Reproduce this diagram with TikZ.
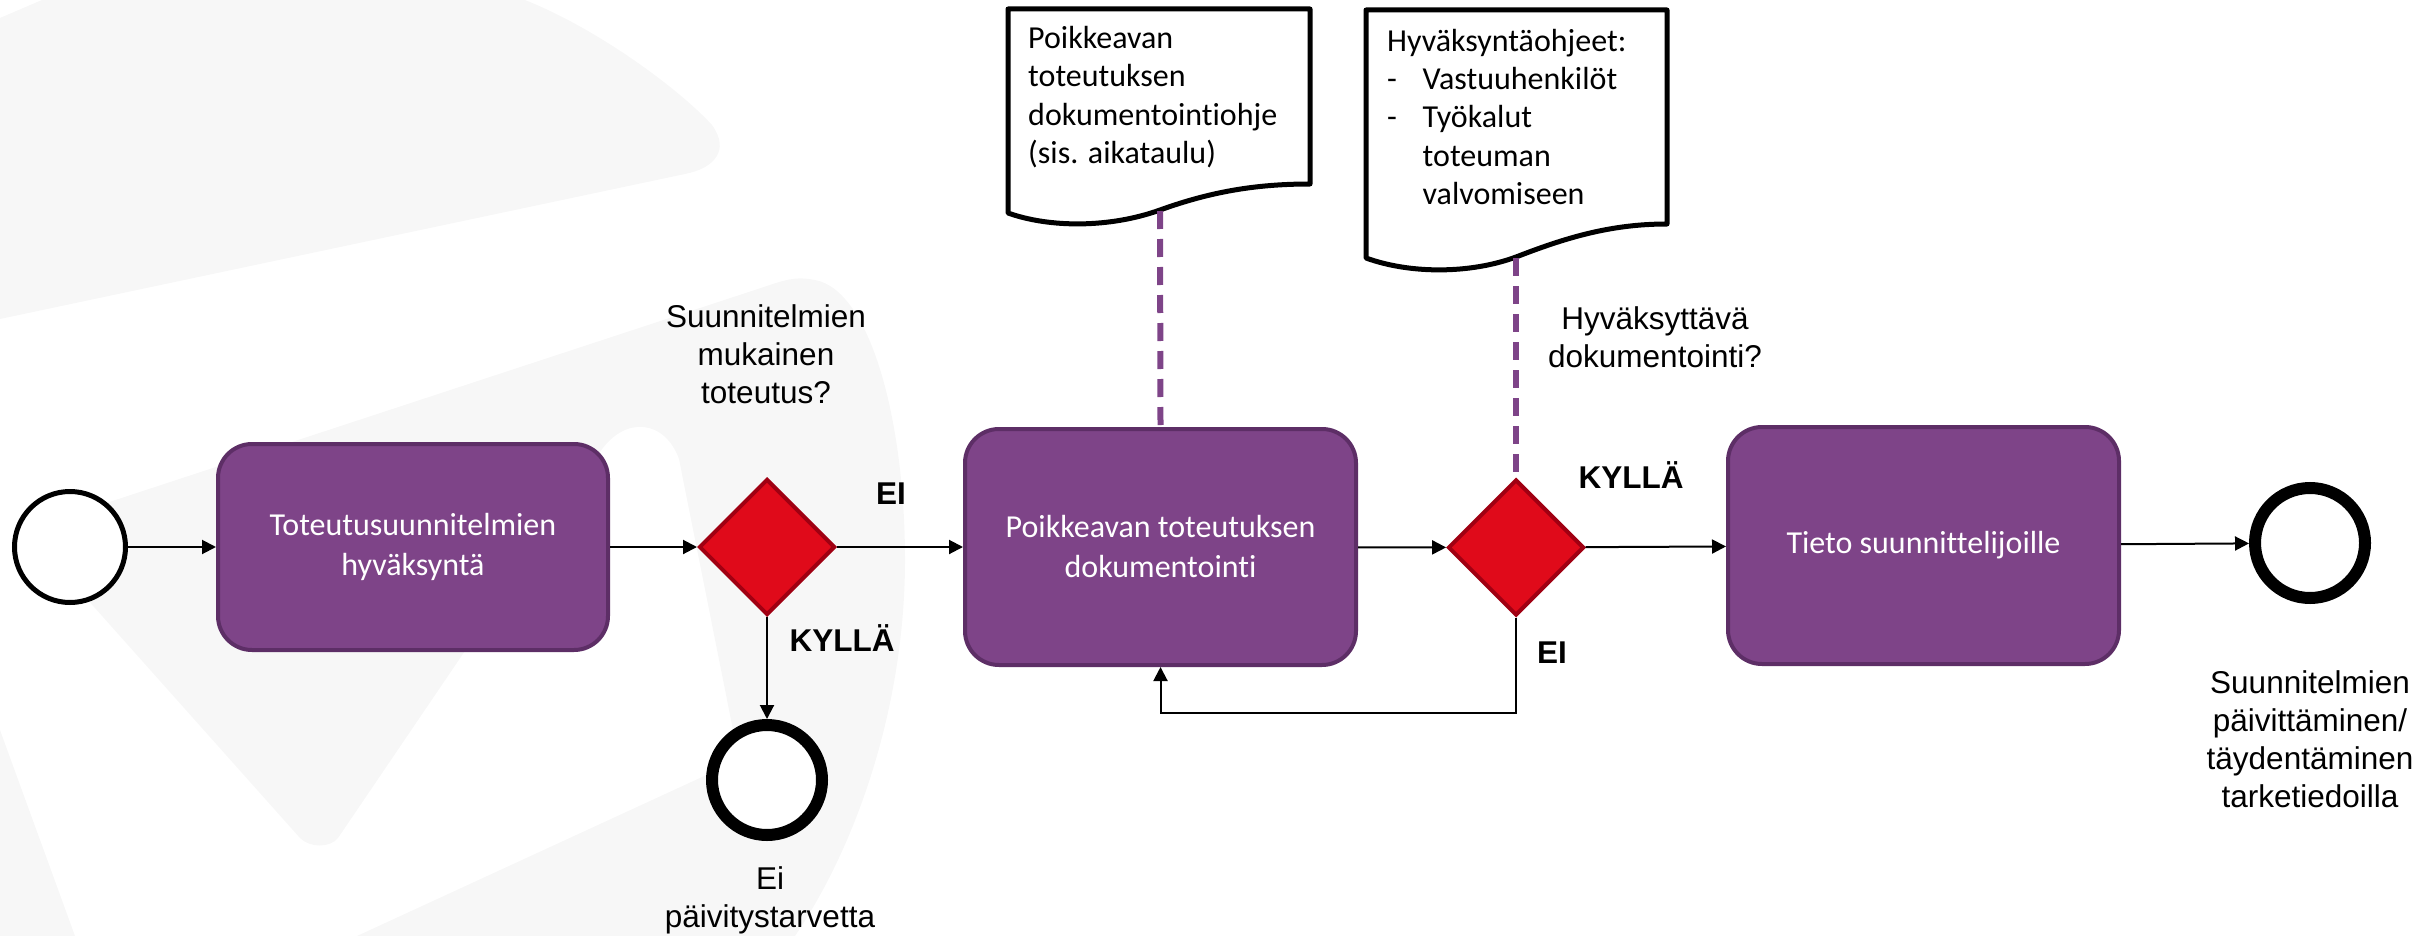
\documentclass[tikz,border=0pt]{standalone}
\usepackage{fontspec}
\setmainfont{Liberation Sans}
\newfontfamily\calibri[Ligatures={NoCommon}]{Carlito}
\usetikzlibrary{shapes.geometric,arrows.meta}
\definecolor{bgrey}{HTML}{F7F7F7}
\definecolor{taskfill}{RGB}{126,68,136}
\definecolor{taskdraw}{RGB}{93,46,102}
\definecolor{gwfill}{RGB}{224,10,26}
\definecolor{gwdraw}{RGB}{160,0,18}
\definecolor{assoc}{RGB}{126,68,136}
\begin{document}
\begin{tikzpicture}[x=1pt,y=-1pt,
 task/.style={rectangle, rounded corners=34pt, fill=taskfill, draw=taskdraw, line width=4pt, minimum width=390pt, minimum height=206pt, text=white, align=center, font=\calibri\fontsize{32}{40}\selectfont, inner sep=0pt},
 gateway/.style={diamond, aspect=1, fill=gwfill, draw=gwdraw, line width=4pt, minimum width=136pt, minimum height=136pt, inner sep=0pt},
 startev/.style={circle, draw=black, line width=5pt, fill=white, minimum size=111pt, inner sep=0pt},
 endev/.style={circle, draw=black, line width=12pt, fill=white, minimum size=110pt, inner sep=0pt},
 flow/.style={line width=2pt, -{Triangle[length=14pt,width=14pt]}},
 assocline/.style={draw=assoc, line width=6pt, dash pattern=on 18pt off 10pt},
 lbl/.style={align=center, font=\fontsize{31.5}{38}\selectfont, inner sep=0pt},
 blbl/.style={font=\bfseries\fontsize{31.5}{38}\selectfont, inner sep=0pt},
 doctext/.style={align=left, font=\calibri\fontsize{32}{38.4}\selectfont, inner sep=0pt, anchor=west},
 docshape/.style={draw=black, line width=5pt, fill=white, line join=round},
]
\useasboundingbox (0,0) rectangle (2435,936);
% background watermark
\fill[bgrey] (0,18) -- (42,0) -- (525,0) .. controls (600,30) and (680,90) .. (712,125)
  .. controls (730,150) and (715,168) .. (685,174) -- (0,319) -- cycle;
\fill[bgrey] (300,838) .. controls (310,848) and (330,848) .. (338,838)
  -- (600,452) .. controls (625,415) and (665,420) .. (679,459)
  -- (739,760) -- (357,936) -- (795,936)
  .. controls (860,840) and (905,700) .. (905,560)
  .. controls (905,420) and (870,290) .. (815,280)
  .. controls (800,277) and (790,278) .. (770,285)
  -- (85,510) .. controls (55,520) and (50,555) .. (70,580) -- cycle;
\fill[bgrey] (0,730) -- (75,936) -- (0,936) -- cycle;

% documents
\draw[docshape] (1008,9) -- (1310,9) -- (1310,184)
  .. controls (1255,184) and (1210,192) .. (1160,210)
  .. controls (1110,228) and (1050,228) .. (1008,213) -- cycle;
\coordinate (d1b) at (1160,211);
\node[doctext] (d1t) at (1028,97) {Poikkeavan\\toteutuksen\\dokumentointiohje\\(sis. aikataulu)};

\draw[docshape] (1366,10) -- (1667,10) -- (1667,224)
  .. controls (1610,224) and (1565,238) .. (1516,257)
  .. controls (1470,274) and (1410,274) .. (1366,258) -- cycle;
\coordinate (d2b) at (1516,258);
\node[doctext] (d2t) at (1387,117) {Hyväksyntäohjeet:\\\makebox[35.5pt][l]{-}Vastuuhenkilöt\\\makebox[35.5pt][l]{-}Työkalut\\\makebox[35.5pt][l]{}toteuman\\\makebox[35.5pt][l]{}valvomiseen};

% flow nodes
\node[startev] (start) at (70,547) {};
\node[task] (t1) at (413,547) {Toteutusuunnitelmien\\hyväksyntä};
\node[gateway] (g1) at (767,547) {};
\node[endev] (e1) at (767,780) {};
\node[task, minimum width=391pt, minimum height=236pt] (t2) at (1160.5,547) {Poikkeavan toteutuksen\\dokumentointi};
\node[gateway] (g2) at (1516,547.5) {};
\node[task, minimum width=391pt, minimum height=237pt] (t3) at (1923.5,545.5) {Tieto suunnittelijoille};
\node[endev] (e2) at (2310,543) {};
\coordinate (loop) at (1516,713);

% associations
\draw[assocline] (d1b) -- (t2.north);
\draw[assocline] (d2b) -- (g2.north);

% sequence flows
\draw[flow] (start) -- (t1);
\draw[flow] (t1) -- (g1);
\draw[flow] (g1) -- (t2);
\draw[flow] (g1) -- (e1);
\draw[flow] (t2) -- (g2);
\draw[flow] (g2) -- (t3);
\draw[flow] (t3) -- (e2);
\draw[flow] (g2.south) -- (loop) -| (t2.south);

% labels
\node[lbl] (q1) at (766,354) {Suunnitelmien\\mukainen\\toteutus?};
\node[blbl] (l1) at (891,494) {EI};
\node[blbl] (l2) at (842,638) {KYLLÄ};
\node[lbl] (n1) at (770,900) {Ei\\päivitystarvetta};
\node[lbl] (q2) at (1655,337.5) {Hyväksyttävä\\dokumentointi?};
\node[blbl] (l3) at (1631,475) {KYLLÄ};
\node[blbl] (l4) at (1552,653) {EI};
\node[lbl] (n2) at (2310,739) {Suunnitelmien\\päivittäminen/\\täydentäminen\\tarketiedoilla};
\end{tikzpicture}
\end{document}
